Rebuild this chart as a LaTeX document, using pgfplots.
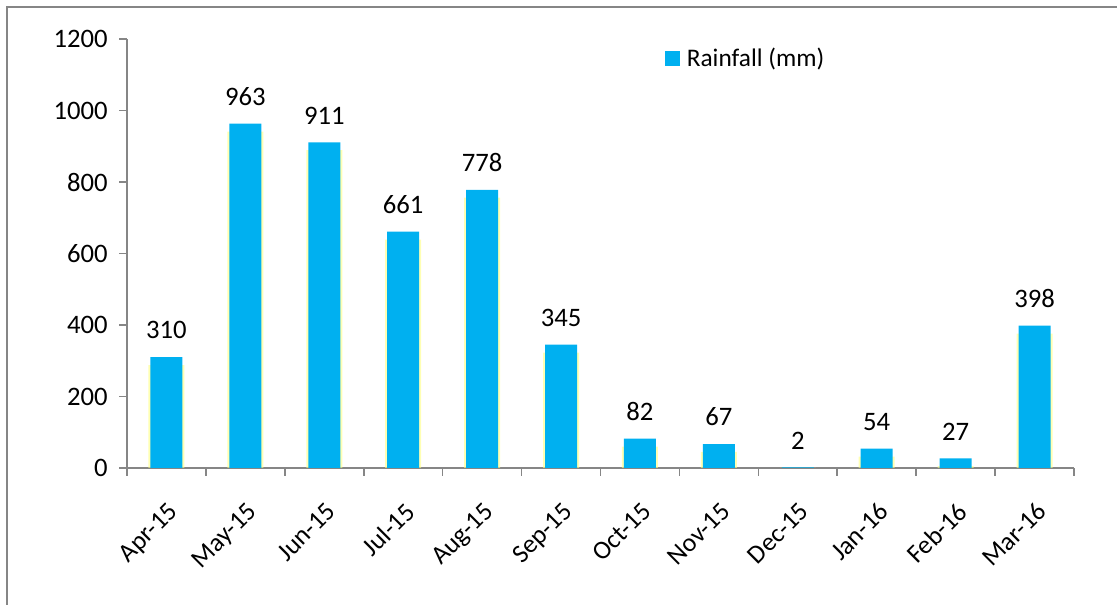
\documentclass[border=0pt]{standalone}
\usepackage{fontspec}
\setmainfont{Carlito}
\usepackage{pgfplots}
\pgfplotsset{compat=1.18}
\definecolor{barblue}{HTML}{00B0F0}
\definecolor{axisgray}{HTML}{868686}
\definecolor{glow}{HTML}{FFFF80}

\begin{document}
\begin{tikzpicture}
  % page = 1117 x 605 px at 0.75pt per px
  \path[use as bounding box] (0,0) rectangle (837.75pt,453.75pt);
  \draw[axisgray, line width=1.5pt] (5.25pt,0) -- (5.25pt,448.5pt) -- (837.75pt,448.5pt);
  \begin{axis}[
      at={(95.25pt,102.75pt)}, anchor=south west,
      scale only axis,
      width=710.25pt, height=321.75pt,
      xmin=-0.5, xmax=11.5,
      ymin=0, ymax=1200,
      ytick={0,200,...,1200},
      xtick={0,...,11},
      xticklabels={Apr-15,May-15,Jun-15,Jul-15,Aug-15,Sep-15,Oct-15,Nov-15,Dec-15,Jan-16,Feb-16,Mar-16},
      minor xtick={-0.5,0.5,...,11.5},
      axis x line*=bottom, axis y line*=left,
      axis line style={axisgray, line width=1.2pt, -},
      every tick/.style={axisgray, line width=1.2pt},
      tick align=outside,
      major tick length=6pt, minor tick length=6pt,
      major x tick style={draw=none},
      font=\fontsize{20}{24}\selectfont,
      /pgf/number format/assume math mode=true,
      /pgf/number format/1000 sep={},
      xticklabel style={anchor=north east, inner sep=1pt, xshift=0.5pt, yshift=-17pt, rotate=45,
        font=\fontsize{19.5}{23}\selectfont},
      yticklabel style={xshift=-5pt},
      legend style={at={(0.568,0.986)}, anchor=north west, draw=none, fill=none,
        font=\fontsize{19}{23}\selectfont, inner sep=0pt, nodes={inner xsep=5pt}},
      legend cell align=left,
      legend image code/.code={\fill[barblue] (0pt,-5.6pt) rectangle (11.25pt,5.6pt);},
      clip=false,
    ]
    % soft yellow edge behind each bar
    \addplot[ybar, bar width=27pt, bar shift=0pt, fill=glow, draw=none, opacity=0.6, forget plot]
      coordinates {(0,288) (1,941) (2,889) (3,639) (4,756) (5,323)
                   (6,60) (7,45) (8,0) (9,32) (10,5) (11,376)};
    \addplot[ybar, bar width=24pt, bar shift=0pt, fill=barblue, draw=none,
      nodes near coords,
      every node near coord/.append style={black, anchor=south, yshift=10pt,
        font=\fontsize{20}{24}\selectfont}]
      coordinates {(0,310) (1,963) (2,911) (3,661) (4,778) (5,345)
                   (6,82) (7,67) (8,2) (9,54) (10,27) (11,398)};
    \addlegendentry{Rainfall (mm)}
  \end{axis}
\end{tikzpicture}
\end{document}
